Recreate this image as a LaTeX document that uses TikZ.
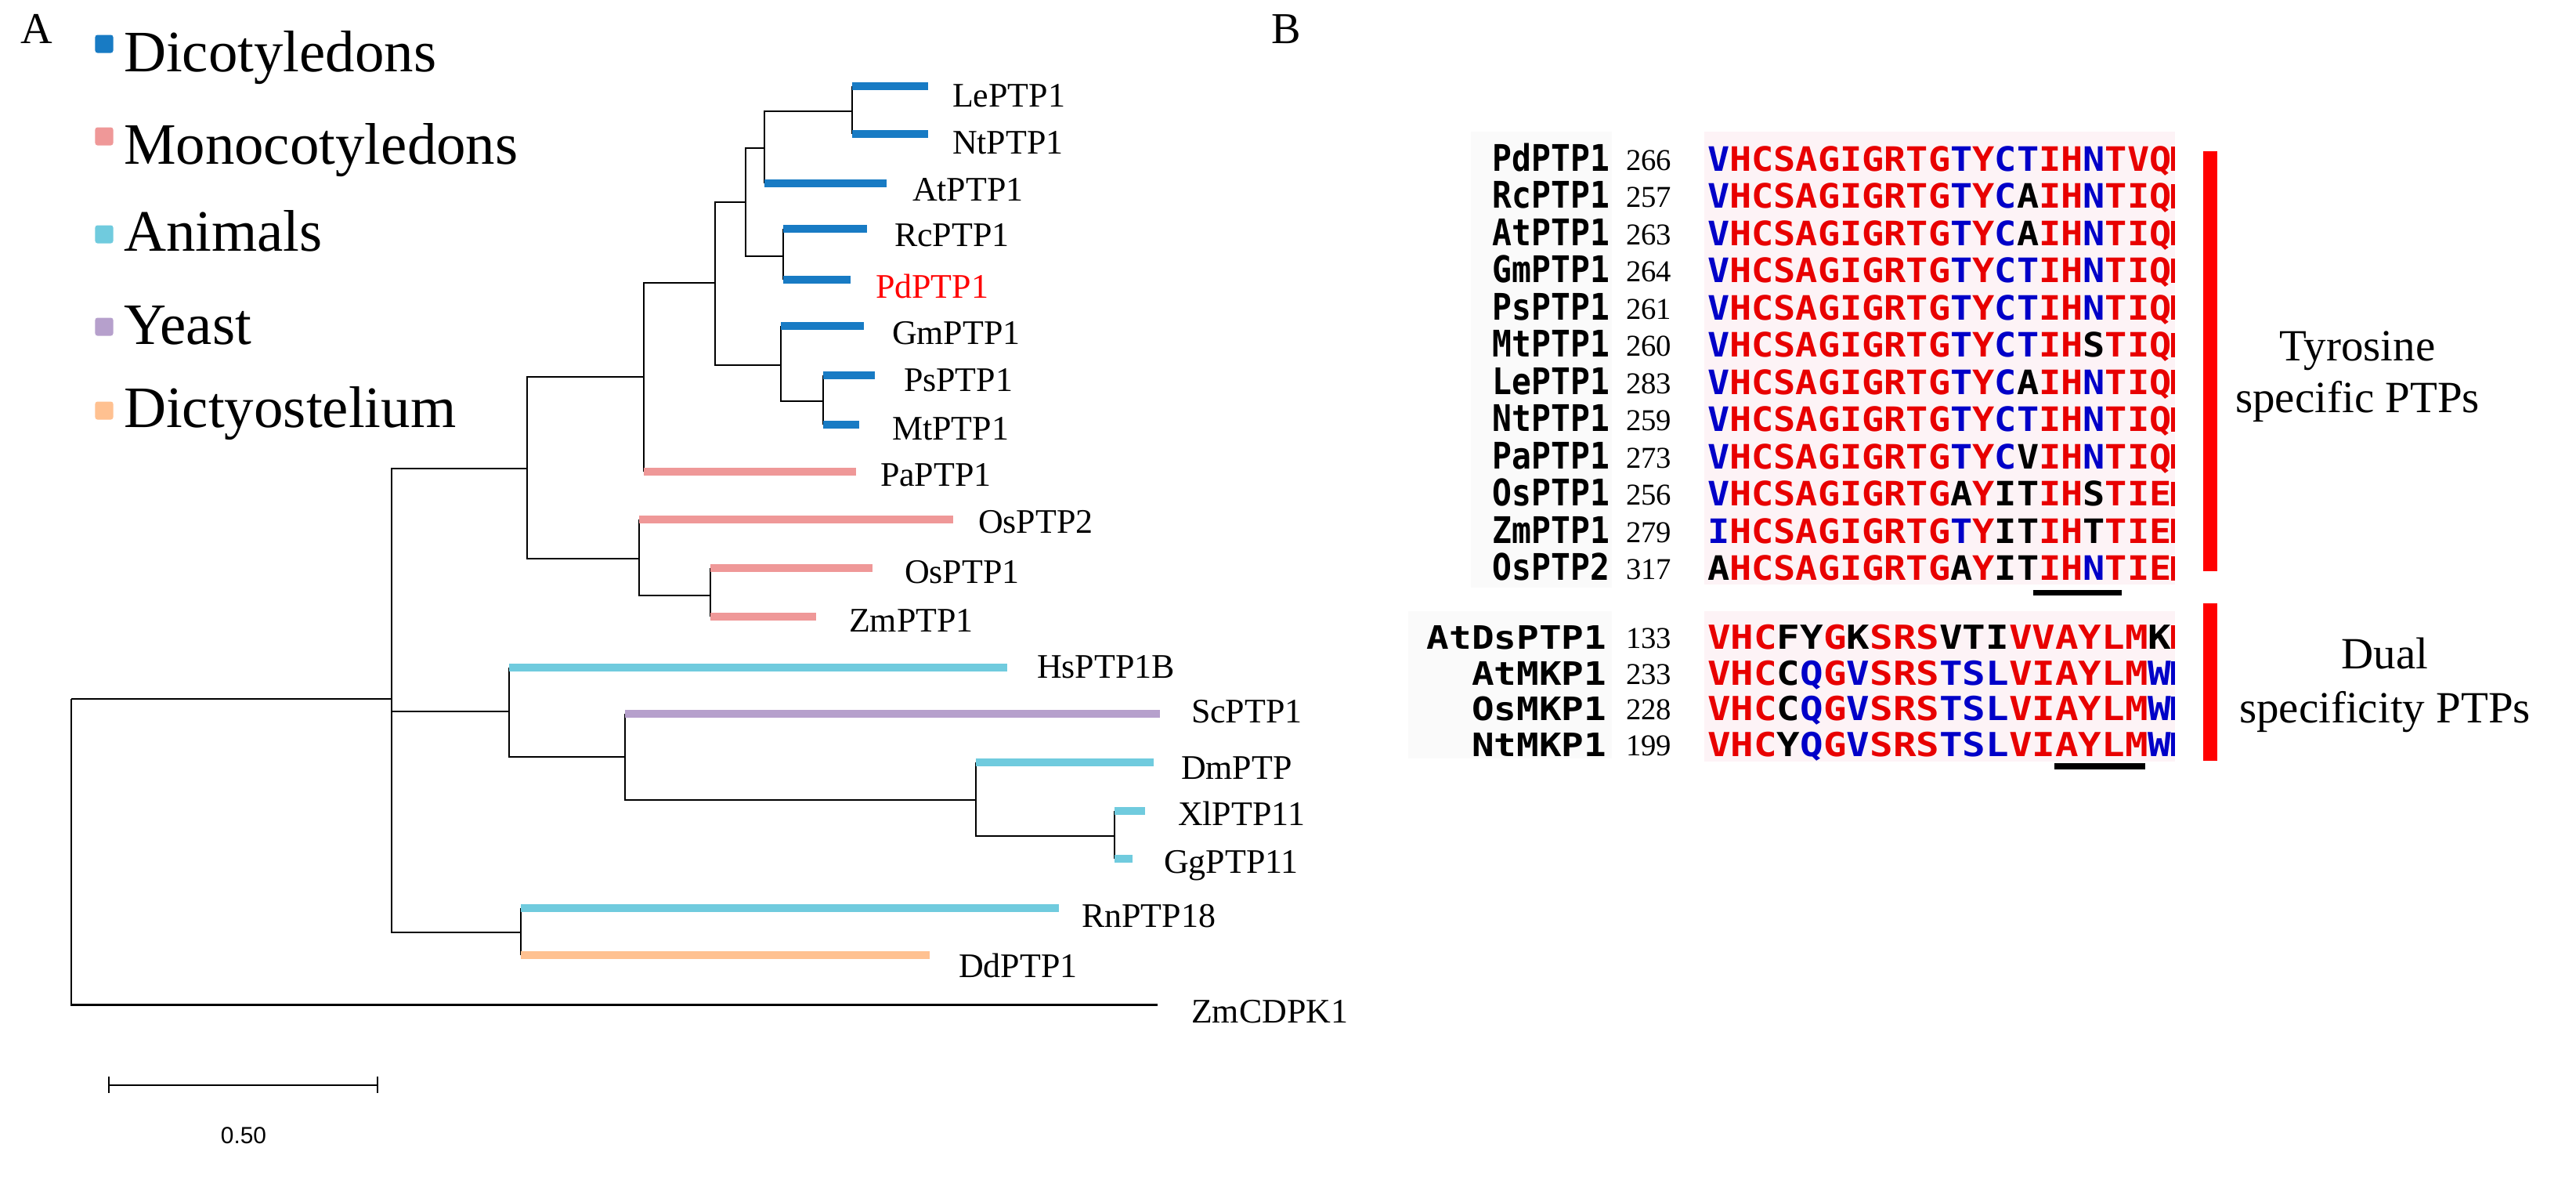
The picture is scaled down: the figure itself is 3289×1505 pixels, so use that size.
\documentclass[tikz,border=0pt]{standalone}
\usepackage{fontspec}
\usepackage{graphicx}
\setmainfont{Liberation Serif}
\newfontfamily\seqfont{DejaVu Sans Mono}
\newfontfamily\barfont{Liberation Sans}
\definecolor{dicot}{RGB}{24,123,196}
\definecolor{monocot}{RGB}{239,152,152}
\definecolor{animal}{RGB}{112,203,222}
\definecolor{yeast}{RGB}{182,160,204}
\definecolor{dicty}{RGB}{255,193,145}
\definecolor{seqR}{RGB}{232,0,0}
\definecolor{seqB}{RGB}{0,0,200}
\definecolor{seqbg}{RGB}{253,243,246}
\definecolor{namebg}{RGB}{250,250,250}
\newcommand\resr[1]{\textcolor{seqR}{#1}}
\newcommand\resb[1]{\textcolor{seqB}{#1}}
\newcommand\resk[1]{\textcolor{black}{#1}}
\newcommand\toprow[5]{%
  \node[nmtop] (nm#1) at (2055,#4) {\scalebox{0.884}[1]{#2}};
  \node[numtxt] (nb#1) at (2076,#4-1) {#3};
  \node[seqtop] (sq#1) at (2180,#4) {\scalebox{1.0925}[1]{#5}};
  \fill[seqR] (2772,#4-31) rectangle (2777,#4);
}
\newcommand\dualrow[6]{%
  \node[nmdual] (nm#1) at (2051,#4) {\scalebox{1.157}[1]{#2}};
  \node[numtxt] (nb#1) at (2076,#4-1) {#3};
  \node[seqdual] (sq#1) at (2180,#4) {\scalebox{1.166}[1]{#5}};
  \fill[#6] (2772,#4-30) rectangle (2777,#4);
}
\tikzset{
  every node/.style={inner sep=0pt, outer sep=0pt},
  tl/.style={line width=0.7pt, black},
  bar/.style={line width=2.7pt, line cap=butt},
  leaf/.style={anchor=base west, font=\fontsize{12.5}{15}\selectfont},
  legsq/.style={minimum size=0.23cm, rounded corners=0.03cm},
  legtxt/.style={anchor=base west, font=\fontsize{21.3}{25}\selectfont},
  panel/.style={anchor=base west, font=\fontsize{16}{19}\selectfont},
  grp/.style={anchor=base, font=\fontsize{16.2}{19}\selectfont},
  nmtop/.style={anchor=base east, font=\seqfont\bfseries\fontsize{13.3}{15}\selectfont},
  nmdual/.style={anchor=base east, font=\seqfont\bfseries\fontsize{11.7}{14}\selectfont},
  numtxt/.style={anchor=base west, font=\fontsize{11}{13}\selectfont},
  seqtop/.style={anchor=base west, font=\seqfont\bfseries\fontsize{12.2}{14}\selectfont},
  seqdual/.style={anchor=base west, font=\seqfont\bfseries\fontsize{12}{14}\selectfont},
}
\begin{document}
\begin{tikzpicture}[x=0.01cm, y=-0.01cm]
\useasboundingbox (0,0) rectangle (3289,1505);
\fill[white] (0,0) rectangle (3289,1505);

% ---------------- Panel labels
\node[panel] (labA) at (26,55) {A};
\node[panel] (labB) at (1623,55) {B};

% ---------------- Legend
\node[legsq, fill=dicot]   (lg1) at (133,56) {};
\node[legsq, fill=monocot] (lg2) at (133,174) {};
\node[legsq, fill=animal]  (lg3) at (133,299) {};
\node[legsq, fill=yeast]   (lg4) at (133,417) {};
\node[legsq, fill=dicty]   (lg5) at (133,524) {};
\node[legtxt] (lt1) at (158,91)  {Dicotyledons};
\node[legtxt] (lt2) at (158,209) {Monocotyledons};
\node[legtxt] (lt3) at (158,320) {Animals};
\node[legtxt] (lt4) at (158,439) {Yeast};
\node[legtxt] (lt5) at (158,545) {Dictyostelium};

% ---------------- Tree: internal nodes
\coordinate (R) at (91,892);
\coordinate (n500) at (500,892);
\coordinate (n673) at (673,598);
\coordinate (n822) at (822,481);
\coordinate (n913) at (913,361);
\coordinate (n952) at (952,258);
\coordinate (n976) at (976,189);
\coordinate (n1088) at (1088,142);
\coordinate (n1000) at (1000,327);
\coordinate (n997) at (997,466);
\coordinate (n1051) at (1051,512);
\coordinate (n816) at (816,713);
\coordinate (n907) at (907,760);
\coordinate (n650) at (650,908);
\coordinate (n798) at (798,966);
\coordinate (n1246) at (1246,1021);
\coordinate (n1423) at (1423,1067);
\coordinate (n665) at (665,1190);
% leaves: start / end of branch
\coordinate (leS) at (1088,110);  \coordinate (leE) at (1185,110);
\coordinate (ntS) at (1088,171);  \coordinate (ntE) at (1185,171);
\coordinate (atS) at (976,234);   \coordinate (atE) at (1132,234);
\coordinate (rcS) at (1000,292);  \coordinate (rcE) at (1107,292);
\coordinate (pdS) at (1000,357);  \coordinate (pdE) at (1086,357);
\coordinate (gmS) at (997,416);   \coordinate (gmE) at (1103,416);
\coordinate (psS) at (1051,479);  \coordinate (psE) at (1117,479);
\coordinate (mtS) at (1051,542);  \coordinate (mtE) at (1097,542);
\coordinate (paS) at (822,602);   \coordinate (paE) at (1093,602);
\coordinate (osbS) at (816,663);  \coordinate (osbE) at (1217,663);
\coordinate (osaS) at (907,725);  \coordinate (osaE) at (1114,725);
\coordinate (zmS) at (907,787);   \coordinate (zmE) at (1042,787);
\coordinate (hsS) at (650,852);   \coordinate (hsE) at (1286,852);
\coordinate (scS) at (798,911);   \coordinate (scE) at (1481,911);
\coordinate (dmS) at (1246,973);  \coordinate (dmE) at (1473,973);
\coordinate (xlS) at (1423,1035); \coordinate (xlE) at (1462,1035);
\coordinate (ggS) at (1423,1096); \coordinate (ggE) at (1446,1096);
\coordinate (rnS) at (665,1159);  \coordinate (rnE) at (1352,1159);
\coordinate (ddS) at (665,1219);  \coordinate (ddE) at (1187,1219);
\coordinate (zcE) at (1478,1282);

% black topology
\draw[tl] (R) -- (n500);
\draw[tl, line width=0.85pt] (R) |- (zcE);
\draw[tl] (n500) |- (n673);  \draw[tl] (n500) |- (n650);  \draw[tl] (n500) |- (n665);
\draw[tl] (n673) |- (n822);  \draw[tl] (n673) |- (n816);
\draw[tl] (n822) |- (n913);  \draw[tl] (n822) |- (paS);
\draw[tl] (n913) |- (n952);  \draw[tl] (n913) |- (n997);
\draw[tl] (n952) |- (n976);  \draw[tl] (n952) |- (n1000);
\draw[tl] (n976) |- (n1088); \draw[tl] (n976) |- (atS);
\draw[tl] (n1088) |- (leS);  \draw[tl] (n1088) |- (ntS);
\draw[tl] (n1000) |- (rcS);  \draw[tl] (n1000) |- (pdS);
\draw[tl] (n997) |- (gmS);   \draw[tl] (n997) |- (n1051);
\draw[tl] (n1051) |- (psS);  \draw[tl] (n1051) |- (mtS);
\draw[tl] (n816) |- (osbS);  \draw[tl] (n816) |- (n907);
\draw[tl] (n907) |- (osaS);  \draw[tl] (n907) |- (zmS);
\draw[tl] (n650) |- (hsS);   \draw[tl] (n650) |- (n798);
\draw[tl] (n798) |- (scS);   \draw[tl] (n798) |- (n1246);
\draw[tl] (n1246) |- (dmS);  \draw[tl] (n1246) |- (n1423);
\draw[tl] (n1423) |- (xlS);  \draw[tl] (n1423) |- (ggS);
\draw[tl] (n665) |- (rnS);   \draw[tl] (n665) |- (ddS);

% coloured terminal branches
\draw[bar, dicot] (leS) -- (leE);
\draw[bar, dicot] (ntS) -- (ntE);
\draw[bar, dicot] (atS) -- (atE);
\draw[bar, dicot] (rcS) -- (rcE);
\draw[bar, dicot] (pdS) -- (pdE);
\draw[bar, dicot] (gmS) -- (gmE);
\draw[bar, dicot] (psS) -- (psE);
\draw[bar, dicot] (mtS) -- (mtE);
\draw[bar, monocot] (paS) -- (paE);
\draw[bar, monocot] (osbS) -- (osbE);
\draw[bar, monocot] (osaS) -- (osaE);
\draw[bar, monocot] (zmS) -- (zmE);
\draw[bar, animal] (hsS) -- (hsE);
\draw[bar, yeast] (scS) -- (scE);
\draw[bar, animal] (dmS) -- (dmE);
\draw[bar, animal] (xlS) -- (xlE);
\draw[bar, animal] (ggS) -- (ggE);
\draw[bar, animal] (rnS) -- (rnE);
\draw[bar, dicty] (ddS) -- (ddE);

% leaf labels
\node[leaf] (leL) at (1216,136) {LePTP1};
\node[leaf] (ntL) at (1216,196) {NtPTP1};
\node[leaf] (atL) at (1165,256) {AtPTP1};
\node[leaf] (rcL) at (1142,314) {RcPTP1};
\node[leaf, text=red] (pdL) at (1118,380) {PdPTP1};
\node[leaf] (gmL) at (1139,439) {GmPTP1};
\node[leaf] (psL) at (1154,499) {PsPTP1};
\node[leaf] (mtL) at (1139,561) {MtPTP1};
\node[leaf] (paL) at (1124,620) {PaPTP1};
\node[leaf] (osbL) at (1249,680) {OsPTP2};
\node[leaf] (osaL) at (1155,744) {OsPTP1};
\node[leaf] (zmL) at (1084,806) {ZmPTP1};
\node[leaf] (hsL) at (1324,865) {HsPTP1B};
\node[leaf] (scL) at (1521,922) {ScPTP1};
\node[leaf] (dmL) at (1508,994) {DmPTP};
\node[leaf] (xlL) at (1504,1053) {XlPTP11};
\node[leaf] (ggL) at (1486,1114) {GgPTP11};
\node[leaf] (rnL) at (1381,1183) {RnPTP18};
\node[leaf] (ddL) at (1224,1247) {DdPTP1};
\node[leaf] (zcL) at (1521,1305) {ZmCDPK1};

% scale bar
\coordinate (sb1) at (139,1385);
\coordinate (sb2) at (482,1385);
\draw[line width=0.8pt] (sb1) -- (sb2);
\draw[line width=0.45pt] (139,1374) -- (139,1395);
\draw[line width=0.45pt] (482,1374) -- (482,1395);
\node[font=\barfont\fontsize{8.5}{10}\selectfont] (sbL) at (311,1449) {0.50};

% ---------------- Panel B : alignment
\fill[namebg] (1878,168) rectangle (2058,750);
\fill[namebg] (1798,780) rectangle (2058,968);
\fill[seqbg] (2176,168) rectangle (2777,746);
\fill[seqbg] (2176,780) rectangle (2777,972);

\toprow{r1}{PdPTP1}{266}{218}{\resb{V}\resr{HCSAGIGRTG}\resb{T}\resr{Y}\resb{CT}\resr{IH}\resb{N}\resr{TVQ}}
\toprow{r2}{RcPTP1}{257}{265.5}{\resb{V}\resr{HCSAGIGRTG}\resb{T}\resr{Y}\resb{C}\resk{A}\resr{IH}\resb{N}\resr{TIQ}}
\toprow{r3}{AtPTP1}{263}{313}{\resb{V}\resr{HCSAGIGRTG}\resb{T}\resr{Y}\resb{C}\resk{A}\resr{IH}\resb{N}\resr{TIQ}}
\toprow{r4}{GmPTP1}{264}{360.5}{\resb{V}\resr{HCSAGIGRTG}\resb{T}\resr{Y}\resb{CT}\resr{IH}\resb{N}\resr{TIQ}}
\toprow{r5}{PsPTP1}{261}{408}{\resb{V}\resr{HCSAGIGRTG}\resb{T}\resr{Y}\resb{CT}\resr{IH}\resb{N}\resr{TIQ}}
\toprow{r6}{MtPTP1}{260}{455.5}{\resb{V}\resr{HCSAGIGRTG}\resb{T}\resr{Y}\resb{CT}\resr{IH}\resk{S}\resr{TIQ}}
\toprow{r7}{LePTP1}{283}{503}{\resb{V}\resr{HCSAGIGRTG}\resb{T}\resr{Y}\resb{C}\resk{A}\resr{IH}\resb{N}\resr{TIQ}}
\toprow{r8}{NtPTP1}{259}{550.5}{\resb{V}\resr{HCSAGIGRTG}\resb{T}\resr{Y}\resb{CT}\resr{IH}\resb{N}\resr{TIQ}}
\toprow{r9}{PaPTP1}{273}{598}{\resb{V}\resr{HCSAGIGRTG}\resb{T}\resr{Y}\resb{C}\resk{V}\resr{IH}\resb{N}\resr{TIQ}}
\toprow{r10}{OsPTP1}{256}{645.5}{\resb{V}\resr{HCSAGIGRTG}\resk{A}\resr{Y}\resk{IT}\resr{IH}\resk{S}\resr{TIE}}
\toprow{r11}{ZmPTP1}{279}{693}{\resb{I}\resr{HCSAGIGRTG}\resb{T}\resr{Y}\resk{IT}\resr{IH}\resk{T}\resr{TIE}}
\toprow{r12}{OsPTP2}{317}{740.5}{\resk{A}\resr{HCSAGIGRTG}\resk{A}\resr{Y}\resk{IT}\resr{IH}\resb{N}\resr{TIE}}

\dualrow{d1}{AtDsPTP1}{133}{828}{\resr{VHC}\resk{FY}\resr{G}\resk{K}\resr{SRS}\resk{VTI}\resr{VVAYLM}\resk{K}}{seqR}
\dualrow{d2}{AtMKP1}{233}{874}{\resr{VHC}\resk{C}\resb{Q}\resr{G}\resb{V}\resr{SRS}\resb{TSL}\resr{VIAYLM}\resb{W}}{seqB}
\dualrow{d3}{OsMKP1}{228}{919}{\resr{VHC}\resk{C}\resb{Q}\resr{G}\resb{V}\resr{SRS}\resb{TSL}\resr{VIAYLM}\resb{W}}{seqB}
\dualrow{d4}{NtMKP1}{199}{965}{\resr{VHC}\resk{Y}\resb{Q}\resr{G}\resb{V}\resr{SRS}\resb{TSL}\resr{VIAYLM}\resb{W}}{seqB}

% motif underlines
\fill[black] (2596,753) rectangle (2709,760);
\fill[black] (2623,974) rectangle (2739,982);

% group brackets
\fill[red] (2813,193) rectangle (2831,729);
\fill[red] (2813,770) rectangle (2831,971);

\node[grp] (gt1) at (3010,460) {Tyrosine};
\node[grp] (gt2) at (3010,526) {specific PTPs};
\node[grp] (gd1) at (3045,853) {Dual};
\node[grp] (gd2) at (3045,922) {specificity PTPs};
\end{tikzpicture}
\end{document}
